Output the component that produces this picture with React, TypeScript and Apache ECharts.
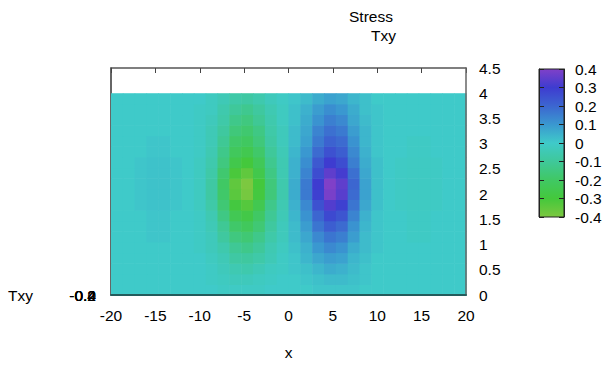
import React, { useEffect, useRef } from "react";
import * as echarts from "echarts";

// x cell edges (31) and y cell edges (20)
const xEdges = [-20, -18.667, -17.333, -16, -14.667, -13.333, -12, -10.667, -9.333, -8, -6.667, -5.333, -4, -2.667, -1.333, 0, 1.333, 2.667, 4, 5.333, 6.667, 8, 9.333, 10.667, 12, 13.333, 14.667, 16, 17.333, 18.667, 20];
const yEdges = [0, 0.2105, 0.4211, 0.6316, 0.8421, 1.0526, 1.2632, 1.4737, 1.6842, 1.8947, 2.1053, 2.3158, 2.5263, 2.7368, 2.9474, 3.1579, 3.3684, 3.5789, 3.7895, 4];

// Txy values, one row per y cell (bottom to top), 30 x cells each
const txyRows = [
  [0,0,0,0,0,0,0, 0,0,-0.01,-0.01,-0.01,-0.01,0,0, 0,0,0.01,0.01,0.01,0.01,0,0, 0,0,0,0,0,0,0],
  [0,0,0,0,0,0,0, 0,-0.01,-0.02,-0.03,-0.03,-0.02,-0.01,0, 0,0.01,0.02,0.03,0.03,0.02,0.01,0, 0,0,0,0,0,0,0],
  [0,0,0,0,0,0,0, 0,-0.01,-0.03,-0.05,-0.06,-0.04,-0.02,-0.01, 0.01,0.02,0.04,0.06,0.05,0.03,0.01,0, 0,0,0,0,0,0,0],
  [0,0,0,0,0,0,0, 0,-0.02,-0.04,-0.08,-0.09,-0.07,-0.04,-0.01, 0.01,0.04,0.07,0.09,0.08,0.04,0.02,0, 0,0,0,0,0,0,0],
  [0,0,0,0,0,0,0, -0.01,-0.03,-0.06,-0.11,-0.13,-0.10,-0.05,-0.02, 0.02,0.05,0.10,0.13,0.11,0.06,0.03,0.01, 0,0,0,0,0,0,0],
  [0,0,0,0.01,0.01,0,0, -0.01,-0.03,-0.09,-0.15,-0.17,-0.13,-0.07,-0.03, 0.03,0.07,0.13,0.17,0.15,0.09,0.03,0.01, 0,0,-0.01,-0.01,0,0,0],
  [0,0,0,0.01,0.01,0,0, -0.01,-0.04,-0.11,-0.19,-0.22,-0.17,-0.09,-0.03, 0.03,0.09,0.17,0.22,0.19,0.11,0.04,0.01, 0,0,-0.01,-0.01,0,0,0],
  [0,0,0,0.01,0.01,0,0, -0.01,-0.05,-0.14,-0.24,-0.27,-0.20,-0.11,-0.04, 0.04,0.11,0.20,0.27,0.24,0.14,0.05,0.01, 0,0,-0.01,-0.01,0,0,0],
  [0,0,0.01,0.015,0.015,0.01,0, -0.02,-0.07,-0.17,-0.29,-0.33,-0.25,-0.13,-0.05, 0.05,0.13,0.25,0.33,0.29,0.17,0.07,0.02, 0,-0.01,-0.015,-0.015,-0.01,0,0],
  [0,0,0.01,0.015,0.015,0.01,0, -0.02,-0.08,-0.19,-0.34,-0.39,-0.29,-0.16,-0.06, 0.06,0.16,0.29,0.39,0.34,0.19,0.08,0.02, 0,-0.01,-0.015,-0.015,-0.01,0,0],
  [0,0,0.01,0.015,0.015,0.01,0, -0.02,-0.08,-0.20,-0.35,-0.40,-0.30,-0.16,-0.06, 0.06,0.16,0.30,0.40,0.35,0.20,0.08,0.02, 0,-0.01,-0.015,-0.015,-0.01,0,0],
  [0,0,0.01,0.015,0.015,0.01,0, -0.02,-0.07,-0.18,-0.31,-0.35,-0.26,-0.14,-0.05, 0.05,0.14,0.26,0.35,0.31,0.18,0.07,0.02, 0,-0.01,-0.015,-0.015,-0.01,0,0],
  [0,0,0.01,0.015,0.015,0.01,0, -0.02,-0.06,-0.15,-0.26,-0.30,-0.23,-0.12,-0.05, 0.05,0.12,0.23,0.30,0.26,0.15,0.06,0.02, 0,-0.01,-0.015,-0.015,-0.01,0,0],
  [0,0,0,0.01,0.01,0,0, -0.01,-0.05,-0.13,-0.22,-0.25,-0.19,-0.10,-0.04, 0.04,0.10,0.19,0.25,0.22,0.13,0.05,0.01, 0,0,-0.01,-0.01,0,0,0],
  [0,0,0,0.01,0.01,0,0, -0.01,-0.04,-0.11,-0.19,-0.21,-0.16,-0.08,-0.03, 0.03,0.08,0.16,0.21,0.19,0.11,0.04,0.01, 0,0,-0.01,-0.01,0,0,0],
  [0,0,0,0,0,0,0, -0.01,-0.04,-0.09,-0.16,-0.18,-0.14,-0.07,-0.03, 0.03,0.07,0.14,0.18,0.16,0.09,0.04,0.01, 0,0,0,0,0,0,0],
  [0,0,0,0,0,0,0, -0.01,-0.03,-0.07,-0.13,-0.15,-0.11,-0.06,-0.02, 0.02,0.06,0.11,0.15,0.13,0.07,0.03,0.01, 0,0,0,0,0,0,0],
  [0,0,0,0,0,0,0, -0.01,-0.02,-0.06,-0.10,-0.12,-0.09,-0.05,-0.02, 0.02,0.05,0.09,0.12,0.10,0.06,0.02,0.01, 0,0,0,0,0,0,0],
  [0,0,0,0,0,0,0, 0,-0.02,-0.04,-0.07,-0.08,-0.06,-0.03,-0.01, 0.01,0.03,0.06,0.08,0.07,0.04,0.02,0, 0,0,0,0,0,0,0],
];

const cbMin = -0.4;
const cbMax = 0.4;
// palette from cbMin to cbMax
const palette = ["#7cc840", "#44c83c", "#40c864", "#3fc89a", "#3fcac9", "#3a98d0", "#3c66d0", "#3e3cd0", "#8040c8"];
const zTickLabels = ["-0.4", "-0.2", "0", "0.2", "0.4"];

const FONT = "'Liberation Sans', Arial, sans-serif";
const FS = 15.5;

export default function App() {
  const ref = useRef<HTMLDivElement>(null);
  useEffect(() => {
    if (!ref.current) return;
    const chart = echarts.init(ref.current, undefined, { renderer: "svg" });

    const cells: number[][] = [];
    txyRows.forEach((row, j) => {
      row.forEach((v, i) => {
        cells.push([xEdges[i], xEdges[i + 1], yEdges[j], yEdges[j + 1], v]);
      });
    });

    const stops = palette
      .slice()
      .reverse()
      .map((c, i, arr) => ({ offset: i / (arr.length - 1), color: c }));

    const option: any = {
      animation: false,
      textStyle: { fontFamily: FONT },
      grid: [
        { left: 111, top: 68, width: 355, height: 228 },
        { left: 539, top: 69, width: 25, height: 148 },
      ],
      xAxis: [
        {
          gridIndex: 0, type: "value", position: "bottom", min: -20, max: 20, interval: 5, z: 3,
          axisLine: { show: true, onZero: false, lineStyle: { color: "#245c5c", width: 2 } },
          axisTick: { show: false },
          splitLine: { show: false },
          axisLabel: { color: "#000", fontSize: FS, fontFamily: FONT, margin: 12 },
          name: "x", nameLocation: "middle", nameGap: 49,
          nameTextStyle: { color: "#000", fontSize: FS, fontFamily: FONT },
        },
        {
          gridIndex: 0, type: "value", position: "top", min: -20, max: 20, interval: 5,
          axisLine: { show: true, onZero: false, lineStyle: { color: "#555", width: 1.5 } },
          axisTick: { show: true, inside: true, length: 5, lineStyle: { color: "#444" } },
          axisLabel: { show: false },
          splitLine: { show: false },
        },
        { gridIndex: 1, type: "value", min: 0, max: 1, show: false },
      ],
      yAxis: [
        {
          gridIndex: 0, type: "value", position: "right", min: 0, max: 4.5, interval: 0.5, z: 3,
          axisLine: { show: true, onZero: false, lineStyle: { color: "#666", width: 1.5 } },
          axisTick: { show: false },
          splitLine: { show: false },
          axisLabel: { color: "#000", fontSize: FS, fontFamily: FONT, margin: 13 },
        },
        {
          gridIndex: 0, type: "value", position: "left", min: 0, max: 4.5, interval: 0.5,
          axisLine: { show: true, onZero: false, lineStyle: { color: "#333", width: 1.5 } },
          axisTick: { show: false },
          axisLabel: { show: false },
          splitLine: { show: false },
        },
        {
          gridIndex: 1, type: "value", position: "right", min: cbMin, max: cbMax, interval: 0.1, z: 5,
          axisLine: { show: true, onZero: false, lineStyle: { color: "#222" } },
          axisTick: { show: true, inside: true, length: 5, lineStyle: { color: "#222" } },
          splitLine: { show: false },
          axisLabel: {
            color: "#000", fontSize: FS, fontFamily: FONT, margin: 11,
            formatter: (v: number) => String(Math.round(v * 10) / 10),
          },
        },
        {
          gridIndex: 1, type: "value", position: "left", min: cbMin, max: cbMax, interval: 0.1, z: 5,
          axisLine: { show: true, onZero: false, lineStyle: { color: "#222" } },
          axisTick: { show: true, inside: true, length: 5, lineStyle: { color: "#222" } },
          splitLine: { show: false },
          axisLabel: { show: false },
        },
      ],
      visualMap: {
        type: "continuous", show: false, min: cbMin, max: cbMax, dimension: 4, seriesIndex: 0,
        inRange: { color: palette },
      },
      series: [
        {
          type: "custom",
          xAxisIndex: 0,
          yAxisIndex: 0,
          encode: { x: [0, 1], y: [2, 3] },
          data: cells,
          renderItem: (params: any, api: any) => {
            const a = api.coord([api.value(0), api.value(3)]);
            const b = api.coord([api.value(1), api.value(2)]);
            return {
              type: "rect",
              shape: { x: a[0], y: a[1], width: b[0] - a[0] + 0.6, height: b[1] - a[1] + 0.6 },
              style: { fill: api.visual("color") },
            };
          },
        },
        {
          type: "custom",
          xAxisIndex: 2,
          yAxisIndex: 2,
          encode: { x: [0, 1], y: [2, 3] },
          data: [[0, 1, cbMin, cbMax]],
          renderItem: (params: any, api: any) => {
            const a = api.coord([api.value(0), api.value(3)]);
            const b = api.coord([api.value(1), api.value(2)]);
            return {
              type: "rect",
              shape: { x: a[0], y: a[1], width: b[0] - a[0], height: b[1] - a[1] },
              style: {
                fill: new echarts.graphic.LinearGradient(0, 0, 0, 1, stops),
                stroke: "#222",
                lineWidth: 1,
              },
            };
          },
        },
      ],
      graphic: [
        {
          type: "text", x: 349, y: 16,
          style: { text: "Stress", fill: "#000", font: `${FS}px ${FONT}`, textAlign: "left", textVerticalAlign: "middle" },
        },
        {
          type: "text", x: 371, y: 35,
          style: { text: "Txy", fill: "#000", font: `${FS}px ${FONT}`, textAlign: "left", textVerticalAlign: "middle" },
        },
        {
          type: "text", x: 8, y: 295,
          style: { text: "Txy", fill: "#000", font: `${FS}px ${FONT}`, textAlign: "left", textVerticalAlign: "middle" },
        },
        ...zTickLabels.map((t) => ({
          type: "text", x: 96, y: 295,
          style: { text: t, fill: "#000", font: `${FS}px ${FONT}`, textAlign: "right", textVerticalAlign: "middle" },
        })),
      ],
    };

    chart.setOption(option);
    return () => chart.dispose();
  }, []);

  return (
    <div
      ref={ref}
      style={{ position: "absolute", left: 0, top: 0, width: 605, height: 365 }}
    />
  );
}
